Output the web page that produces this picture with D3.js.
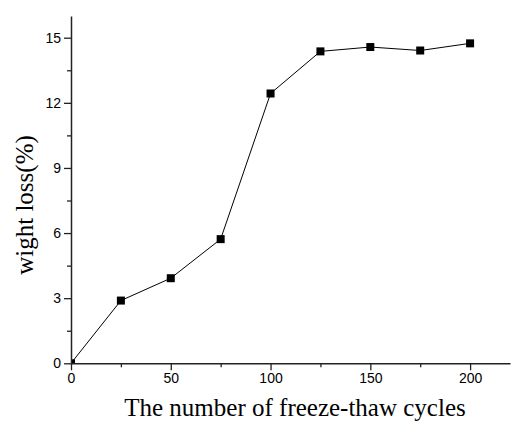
<!DOCTYPE html>
<html>
<head>
<meta charset="utf-8">
<script src="https://cdn.jsdelivr.net/npm/d3@7"></script>
<style>
  body { margin: 0; background: #fff; }
  svg { display: block; }
  .tick text { font-family: "Liberation Sans", Arial, sans-serif; font-size: 14px; fill: #000; }
  .title { font-family: "Liberation Serif", "Times New Roman", serif; fill: #000; }
</style>
</head>
<body>
<svg width="511" height="421"></svg>
<script>
const cycles = [0, 25, 50, 75, 100, 125, 150, 175, 200];
const weightLoss = [0, 2.89, 3.92, 5.72, 12.43, 14.37, 14.57, 14.41, 14.74];
const xTicks = [0, 50, 100, 150, 200];
const xMinor = [25, 75, 125, 175];
const yTicks = [0, 3, 6, 9, 12, 15];
const yMinor = [1.5, 4.5, 7.5, 10.5, 13.5];

const svg = d3.select("svg");

const x = d3.scaleLinear().domain([0, 220]).range([71, 510]);
const y = d3.scaleLinear().domain([0, 16]).range([363.3, 16]);

// markers get cut at the axes like in the original plot
svg.append("clipPath")
  .attr("id", "plot-clip")
  .append("rect")
  .attr("x", x(0))
  .attr("y", y(16))
  .attr("width", x(220) - x(0))
  .attr("height", y(0) - y(16));

const plot = svg.append("g").attr("clip-path", "url(#plot-clip)");

const data = cycles.map((c, i) => [c, weightLoss[i]]);

plot.append("path")
  .datum(data)
  .attr("fill", "none")
  .attr("stroke", "#000")
  .attr("stroke-width", 1)
  .attr("d", d3.line().x(d => x(d[0])).y(d => y(d[1])));

plot.selectAll(".pt")
  .data(data)
  .enter()
  .append("rect")
  .attr("class", "pt")
  .attr("x", d => x(d[0]) - 4)
  .attr("y", d => y(d[1]) - 4)
  .attr("width", 8)
  .attr("height", 8)
  .attr("fill", "#000");

// minor ticks first, majors on top
svg.append("g")
  .attr("transform", `translate(0,${y(0)})`)
  .call(d3.axisBottom(x).tickValues(xMinor).tickSize(4).tickFormat(""))
  .call(g => g.select(".domain").remove())
  .selectAll("line").attr("stroke", "#222").attr("stroke-width", 1.3);

svg.append("g")
  .attr("transform", `translate(${x(0)},0)`)
  .call(d3.axisLeft(y).tickValues(yMinor).tickSize(4).tickFormat(""))
  .call(g => g.select(".domain").remove())
  .selectAll("line").attr("stroke", "#222").attr("stroke-width", 1.3);

const xAxis = svg.append("g")
  .attr("transform", `translate(0,${y(0)})`)
  .call(d3.axisBottom(x).tickValues(xTicks).tickSize(7).tickPadding(3).tickSizeOuter(0));
xAxis.select(".domain").attr("stroke", "#222").attr("stroke-width", 1.5);
xAxis.selectAll(".tick line").attr("stroke", "#222").attr("stroke-width", 1.3);

const yAxis = svg.append("g")
  .attr("transform", `translate(${x(0)},0)`)
  .call(d3.axisLeft(y).tickValues(yTicks).tickSize(7).tickPadding(3).tickSizeOuter(0));
yAxis.select(".domain").attr("stroke", "#222").attr("stroke-width", 1.5);
yAxis.selectAll(".tick line").attr("stroke", "#222").attr("stroke-width", 1.3);

svg.append("text")
  .attr("class", "title")
  .attr("x", 295)
  .attr("y", 416)
  .attr("text-anchor", "middle")
  .style("font-size", "25px")
  .text("The number of freeze-thaw cycles");

svg.append("text")
  .attr("class", "title")
  .attr("transform", "translate(33,205) rotate(-90)")
  .attr("text-anchor", "middle")
  .style("font-size", "25px")
  .text("wight loss(%)");
</script>
</body>
</html>
